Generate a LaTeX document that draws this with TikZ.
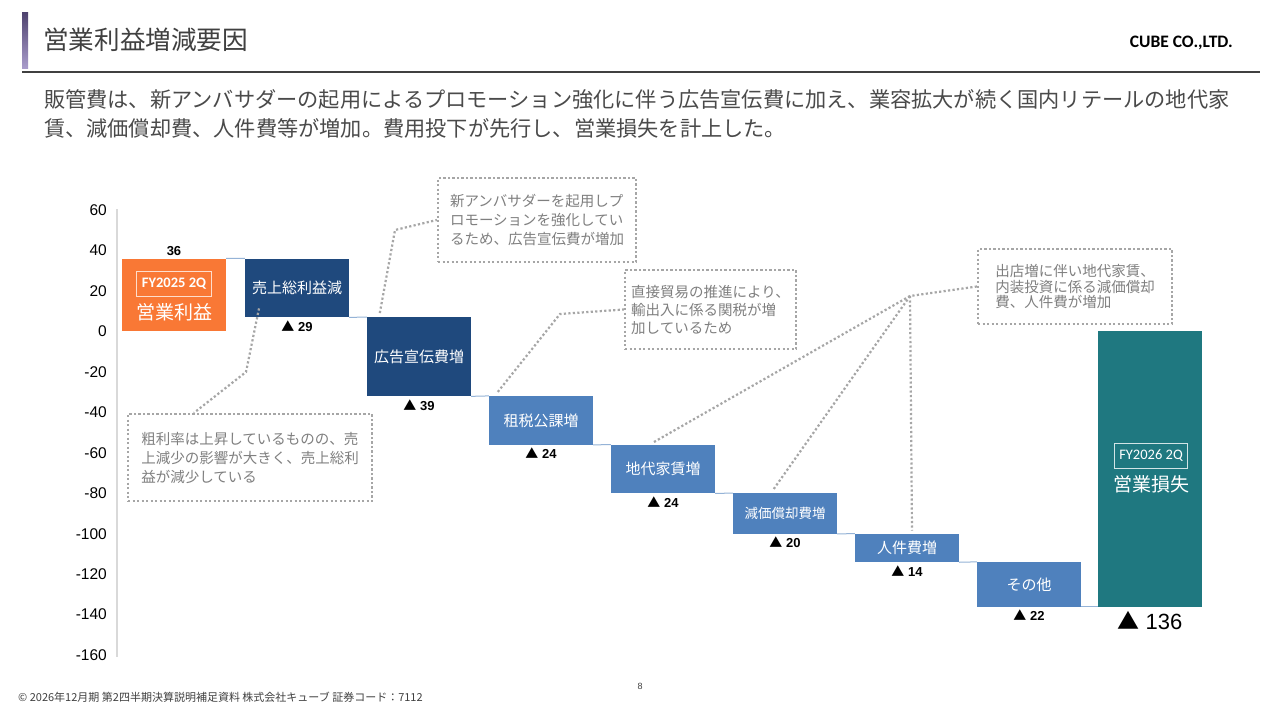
\documentclass[tikz,border=0pt]{standalone}
\usepackage{fontspec}
\setmainfont{Liberation Sans}
\newfontfamily\jp{Noto Sans CJK JP}
\newfontfamily\calib{Carlito}
\usetikzlibrary{positioning}
\definecolor{orangebar}{HTML}{F97835}
\definecolor{navybar}{HTML}{1F497D}
\definecolor{bluebar}{HTML}{4F81BD}
\definecolor{tealbar}{HTML}{1F7880}
\definecolor{linkblue}{HTML}{95B3D7}
\definecolor{notegray}{HTML}{7F7F7F}
\definecolor{dotgray}{HTML}{A6A6A6}
\definecolor{textgray}{HTML}{404040}
\definecolor{leadgray}{HTML}{4A4A4A}
\definecolor{axisgray}{HTML}{D9D9D9}
\definecolor{titletop}{HTML}{4E426E}
\definecolor{titlebot}{HTML}{A99CCB}
\tikzset{
	wfbar/.style={
			rectangle, inner sep=0pt, minimum width=104pt,
			text=white, font=\jp\fontsize{15}{18}\selectfont},
	link/.style={draw=linkblue, line width=1pt},
	note/.style={
			rectangle, draw=dotgray, line width=2.2pt, dash pattern=on 2.2pt off 2.3pt,
			text=notegray, align=left, inner sep=0pt, font=\jp\fontsize{14.5}{19}\selectfont},
	noteline/.style={draw=dotgray, line width=2.2pt, dash pattern=on 2.2pt off 2.3pt},
	delta/.style={font=\bfseries\fontsize{13}{15}\selectfont, inner sep=1pt},
	fytag/.style={
			rectangle, draw=white, line width=1pt, text=white, inner xsep=5pt,
			minimum height=25pt, font=\calib\fontsize{14.5}{16}\selectfont},
		}

\begin{document}
\begin{tikzpicture}[x=1pt, y=-1pt]
	\useasboundingbox (0,0) rectangle (1280,720);
	\fill[white] (0,0) rectangle (1280,720);

	% header
	\shade[top color=titletop, bottom color=titlebot] (22,12) rectangle (28,68);
	\node[anchor=west, inner sep=0pt, text=textgray, font=\jp\fontsize{25.6}{28}\selectfont] (title) at (43,40) {営業利益増減要因};
	\node[anchor=east, inner sep=0pt, font=\calib\bfseries\fontsize{17.5}{19}\selectfont] (company) at (1233,43) {CUBE CO.,LTD.};
	\draw[textgray, line width=1.2pt] (22,72) -- (1260,72);
	\node[anchor=north west, inner sep=0pt, align=left, text=leadgray, font=\jp\fontsize{21.2}{29}\selectfont] (lead) at (44,89)
		{販管費は、新アンバサダーの起用によるプロモーション強化に伴う広告宣伝費に加え、業容拡大が続く国内リテールの地代家\\
		 賃、減価償却費、人件費等が増加。費用投下が先行し、営業損失を計上した。};

	% axis
	\draw[axisgray, line width=1.5pt] (117,209) -- (117,657);
	\foreach \v in {60,40,...,-160}
		\node[anchor=east, inner sep=0pt, font=\fontsize{15.5}{17}\selectfont] (tick\v) at (107,{331.4-2.023*\v}) {\v};

	% bars
	\node[wfbar, fill=orangebar, minimum height=72.8pt] (b1) at (174,295.0) {};
	\node[wfbar, fill=navybar, minimum height=58.6pt] (b2) at (297,287.9) {売上総利益減};
	\node[wfbar, fill=navybar, minimum height=78.9pt] (b3) at (419,356.7) {広告宣伝費増};
	\node[wfbar, fill=bluebar, minimum height=48.6pt] (b4) at (541,420.4) {租税公課増};
	\node[wfbar, fill=bluebar, minimum height=48.5pt] (b5) at (663,469.0) {地代家賃増};
	\node[wfbar, fill=bluebar, minimum height=40.5pt, font=\jp\fontsize{13.5}{16}\selectfont] (b6) at (785,513.5) {減価償却費増};
	\node[wfbar, fill=bluebar, minimum height=28.3pt] (b7) at (907,547.9) {人件費増};
	\node[wfbar, fill=bluebar, minimum height=44.5pt] (b8) at (1029,584.3) {その他};
	\node[wfbar, fill=tealbar, minimum height=275.1pt] (b9) at (1150,469.0) {};

	\draw[link] (b1.north east) -- (b2.north west);
	\draw[link] (b2.south east) -- (b3.north west);
	\draw[link] (b3.south east) -- (b4.north west);
	\draw[link] (b4.south east) -- (b5.north west);
	\draw[link] (b5.south east) -- (b6.north west);
	\draw[link] (b6.south east) -- (b7.north west);
	\draw[link] (b7.south east) -- (b8.north west);
	\draw[link] (b8.south east) -- (b9.south west);

	% start and end labels
	\node[fytag, draw=white!75!orangebar, font=\calib\bfseries\fontsize{14.5}{16}\selectfont] (fy25) at (174,284) {FY2025 2Q};
	\node[text=white, inner sep=0pt, font=\jp\fontsize{19}{21}\selectfont, below=6pt of fy25] (start) {営業利益};
	\node[fytag, draw=white!80!tealbar] (fy26) at (1151,456) {FY2026 2Q};
	\node[text=white, inner sep=0pt, font=\jp\fontsize{19}{21}\selectfont, below=6pt of fy26] (result) {営業損失};

	\node[delta, above=2pt of b1] (d1) {36};
	\node[delta, below=2pt of b2] (d2) {{\jp ▲} 29};
	\node[delta, below=2pt of b3] (d3) {{\jp ▲} 39};
	\node[delta, below=2pt of b4] (d4) {{\jp ▲} 24};
	\node[delta, below=2pt of b5] (d5) {{\jp ▲} 24};
	\node[delta, below=2pt of b6] (d6) {{\jp ▲} 20};
	\node[delta, below=2pt of b7] (d7) {{\jp ▲} 14};
	\node[delta, below=2pt of b8] (d8) {{\jp ▲} 22};
	\node[inner sep=1pt, font=\fontsize{22}{24}\selectfont, below=3pt of b9] (d9) {{\jp ▲} 136};

	% notes
	\node[note, minimum width=244pt, minimum height=87pt] (note1) at (250,457.5)
		{粗利率は上昇しているものの、売\\上減少の影響が大きく、売上総利\\益が減少している};
	\node[note, minimum width=198pt, minimum height=84pt] (note2) at (537,220)
		{新アンバサダーを起用しプ\\ロモーションを強化してい\\るため、広告宣伝費が増加};
	\node[note, minimum width=171pt, minimum height=79pt, font=\jp\fontsize{14.5}{18}\selectfont] (note3) at (710.5,309.5)
		{直接貿易の推進により、\\輸出入に係る関税が増\\加しているため};
	\node[note, minimum width=194pt, minimum height=75pt, font=\jp\fontsize{14.5}{15.5}\selectfont] (note4) at (1075,286.5)
		{出店増に伴い地代家賃、\\内装投資に係る減価償却\\費、人件費が増加};

	\coordinate (bend1) at (246,372);
	\coordinate (bend2) at (395,230);
	\coordinate (bend3) at (560,314);
	\coordinate (hub) at (910,296);
	\draw[noteline] ([xshift=-38pt,yshift=9pt]b2.south) -- (bend1) -- ([xshift=67pt]note1.north west);
	\draw[noteline] ([xshift=13pt,yshift=4pt]b3.north west) -- (bend2) -- (note2.west);
	\draw[noteline] ([xshift=9pt,yshift=4pt]b4.north west) -- (bend3) -- (note3.west);
	\draw[noteline] (note4.west) -- (hub);
	\draw[noteline] (hub) -- ([xshift=-10pt,yshift=2pt]b5.north);
	\draw[noteline] (hub) -- ([xshift=-12pt,yshift=3pt]b6.north);
	\draw[noteline] (hub) -- ([xshift=5pt,yshift=3pt]b7.north);

	% footer
	\node[anchor=west, inner sep=0pt, text=textgray, font=\jp\fontsize{11}{13}\selectfont] (footer) at (18,697)
		{© 2026年12月期 第2四半期決算説明補足資料 株式会社キューブ 証券コード：7112};
	\node[inner sep=0pt, text=textgray, font=\fontsize{9}{11}\selectfont] (page) at (640,686) {8};
\end{tikzpicture}
\end{document}
